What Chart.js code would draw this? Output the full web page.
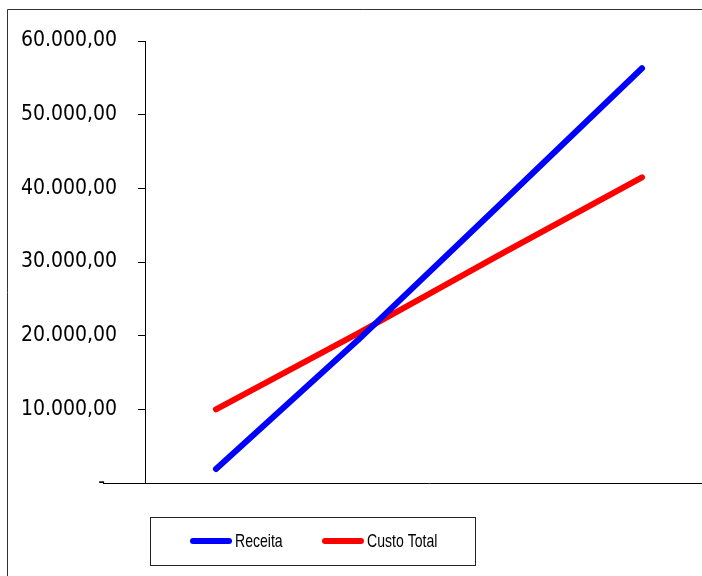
<!DOCTYPE html>
<html>
<head>
<meta charset="utf-8">
<script src="https://cdn.jsdelivr.net/npm/chart.js@4/dist/chart.umd.min.js"></script>
<style>
  html, body { margin: 0; padding: 0; background: #fff; overflow: hidden; }
  #wrap { position: relative; width: 702px; height: 576px; overflow: hidden; }
</style>
</head>
<body>
<div id="wrap"><canvas id="chart" width="720" height="576"></canvas></div>
<script>
  // break-even chart data
  const quantidades = ['1', '2', '3', '4'];
  const receita = [1900, 19400, 37800, 56300];
  const custoTotal = [10000, 20300, 31000, 41500];
  const yTicks = [0, 10000, 20000, 30000, 40000, 50000, 60000];

  // 60000 -> "60.000,00", 0 -> "-"
  const fmt = (v) => {
    if (v === 0) return '-  ';
    const s = Math.round(v).toString().replace(/\B(?=(\d{3})+(?!\d))/g, '.');
    return s + ',00';
  };

  // frame, axis extension and boxed legend like the Excel original
  const excelBits = {
    id: 'excelBits',
    afterDraw(chart) {
      const ctx = chart.ctx;
      const y0 = chart.scales.y.getPixelForValue(0);
      ctx.save();
      // outer frame (left and top only, the rest is cropped)
      ctx.strokeStyle = '#333';
      ctx.lineWidth = 1;
      ctx.beginPath();
      ctx.moveTo(7.5, 576);
      ctx.lineTo(7.5, 9.5);
      ctx.lineTo(720, 9.5);
      ctx.stroke();
      // category axis runs a bit left of the value axis
      ctx.strokeStyle = '#000';
      ctx.beginPath();
      ctx.moveTo(103, Math.round(y0) + 0.5);
      ctx.lineTo(chart.chartArea.left, Math.round(y0) + 0.5);
      ctx.stroke();
      // legend box
      ctx.strokeStyle = '#222';
      ctx.strokeRect(150.5, 517.5, 325, 48);
      const items = [[193, 235], [325, 367]];
      ctx.font = '19px "Liberation Sans", Arial, sans-serif';
      ctx.textBaseline = 'middle';
      chart.data.datasets.forEach((ds, i) => {
        const [x1, tx] = items[i];
        ctx.strokeStyle = ds.borderColor;
        ctx.lineWidth = 6;
        ctx.lineCap = 'round';
        ctx.beginPath();
        ctx.moveTo(x1, 541);
        ctx.lineTo(x1 + 36, 541);
        ctx.stroke();
        // narrow text, as in the original
        ctx.save();
        ctx.translate(tx, 542);
        ctx.scale(0.74, 1);
        ctx.fillStyle = '#000';
        ctx.fillText(ds.label, 0, 0);
        ctx.restore();
      });
      ctx.restore();
    }
  };

  const ctx = document.getElementById('chart');
  window.myChart = new Chart(ctx, {
    type: 'line',
    data: {
      labels: quantidades,
      datasets: [
        {
          label: 'Receita',
          data: receita,
          borderColor: '#0000FF',
          backgroundColor: '#0000FF',
          borderWidth: 6,
          borderCapStyle: 'round',
          borderJoinStyle: 'round',
          pointRadius: 0,
          tension: 0
        },
        {
          label: 'Custo Total',
          data: custoTotal,
          borderColor: '#FF0000',
          backgroundColor: '#FF0000',
          borderWidth: 6,
          borderCapStyle: 'round',
          borderJoinStyle: 'round',
          pointRadius: 0,
          tension: 0
        }
      ]
    },
    options: {
      responsive: false,
      animation: false,
      layout: { padding: { top: 41, left: 0, right: 7, bottom: 0 } },
      plugins: {
        legend: { display: false },
        tooltip: { enabled: false }
      },
      scales: {
        x: {
          offset: true,
          grid: { display: false, drawTicks: false },
          ticks: { display: false },
          border: { display: true, color: '#000', width: 1 },
          afterFit: (scale) => { scale.height = 93; }
        },
        y: {
          min: 0,
          max: 60000,
          afterBuildTicks: (scale) => { scale.ticks = yTicks.map(v => ({ value: v })); },
          grid: { drawOnChartArea: false, tickLength: 7, color: '#000' },
          border: { display: true, color: '#000', width: 1 },
          ticks: {
            padding: 21,
            color: '#000',
            font: { family: '"DejaVu Sans Condensed", "Noto Sans", sans-serif', size: 21 },
            callback: (v) => fmt(v)
          },
          afterFit: (scale) => { scale.width = 145; }
        }
      }
    },
    plugins: [excelBits]
  });
</script>
</body>
</html>
